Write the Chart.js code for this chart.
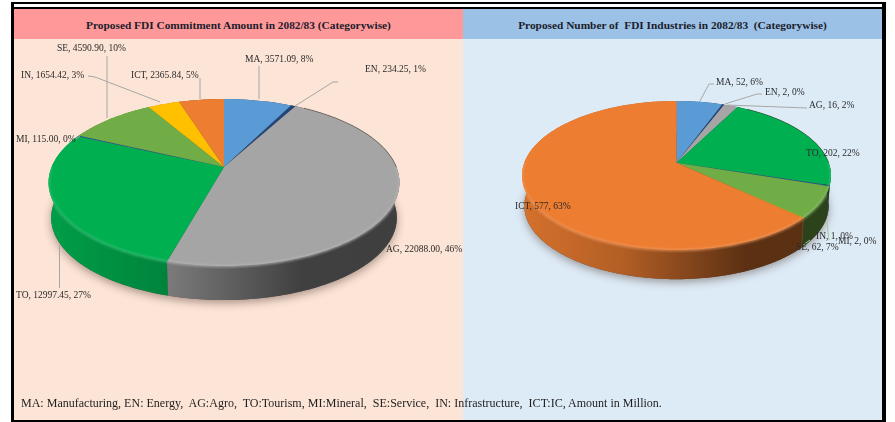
<!DOCTYPE html>
<html>
<head>
<meta charset="utf-8">
<title>Proposed FDI 2082/83</title>
<script src="https://cdn.jsdelivr.net/npm/chart.js@4/dist/chart.umd.js"></script>
<style>
  html, body { margin: 0; padding: 0; background: #fff; overflow: hidden; }
  #page { position: relative; width: 895px; height: 422px; font-family: "Liberation Serif", serif; color: #1f1f1f; }
  #page div, #page canvas { position: absolute; }
  .rule { background: #000; }
  .band { top: 9px; height: 30px; line-height: 33px; text-align: center; font-weight: bold; font-size: 11.35px; color: #1c1c2c; white-space: pre; }
  #footnote { left: 21px; top: 395px; font-size: 12.03px; white-space: pre; line-height: 16px; }
</style>
</head>
<body>
<div id="page">
  <div style="left:14px;top:39px;width:449px;height:381px;background:#FCE4D6"></div>
  <div style="left:463px;top:39px;width:419px;height:381px;background:#DDEBF7"></div>
  <div class="band" style="left:14px;width:449px;background:#FF9999">Proposed FDI Commitment Amount in 2082/83 (Categorywise)</div>
  <div class="band" style="left:463px;width:419px;background:#9BC2E6">Proposed Number of  FDI Industries in 2082/83  (Categorywise)</div>
  <div class="rule" style="left:11px;top:2px;width:875px;height:2px"></div>
  <div class="rule" style="left:11px;top:7px;width:875px;height:2px"></div>
  <div class="rule" style="left:11px;top:2px;width:3px;height:420px"></div>
  <div class="rule" style="left:882px;top:2px;width:4px;height:420px"></div>
  <div class="rule" style="left:11px;top:420px;width:875px;height:2px"></div>
  <canvas id="amountPie" width="895" height="422"></canvas>
  <canvas id="industryPie" width="895" height="422"></canvas>
  <div id="footnote">MA: Manufacturing, EN: Energy,  AG:Agro,  TO:Tourism, MI:Mineral,  SE:Service,  IN: Infrastructure,  ICT:IC, Amount in Million.</div>
</div>
<script>
// Sector codes and slice colours shared by both pies
const categories = ['MA', 'EN', 'AG', 'TO', 'MI', 'SE', 'IN', 'ICT'];
const sliceColors = ['#5B9BD5', '#264478', '#A5A5A5', '#00B050', '#255E91', '#70AD47', '#FFC000', '#ED7D31'];

// Commitment amount in million, with the printed share of each sector
const amountValues = [3571.09, 234.25, 22088.00, 12997.45, 115.00, 4590.90, 1654.42, 2365.84];
const amountPercents = [8, 1, 46, 27, 0, 10, 3, 5];

// Number of industries, with the printed share of each sector
const industryValues = [52, 2, 16, 202, 2, 62, 1, 577];
const industryPercents = [6, 0, 2, 22, 0, 7, 0, 63];

// Label placement per sector: text left edge, text middle, then leader polyline
const amountLabelLayout = [
  { x: 245, y: 59, leader: [[259, 66], [259, 99]] },
  { x: 365, y: 69, leader: [[338, 82], [333, 82], [295, 106]] },
  { x: 386, y: 249 },
  { x: 16, y: 295, leader: [[59.5, 288], [59.5, 245]] },
  { x: 16, y: 139, leader: [[76, 139], [80, 136]] },
  { x: 57, y: 48, leader: [[107, 56], [107, 118]] },
  { x: 21, y: 75, leader: [[88, 76], [95, 77], [160, 102]] },
  { x: 131, y: 75, leader: [[200, 78], [200, 99]] }
];
const industryLabelLayout = [
  { x: 716, y: 82, leader: [[714, 84], [709, 84], [700, 101]] },
  { x: 765, y: 92, leader: [[762, 94], [757, 94], [725, 104]] },
  { x: 809, y: 105, leader: [[807, 108], [727, 105]] },
  { x: 806, y: 153 },
  { x: 838, y: 241 },
  { x: 796, y: 247, leader: [[810, 240], [803, 245]], tint: '#A9C79A' },
  { x: 816, y: 236, leader: [[826.7, 220], [829, 240]], tint: '#A9C79A' },
  { x: 515, y: 206 }
];

// Brightness of the side wall from the left to the right of the pie
const wallShade = [[0, 0.9], [0.33, 0.75], [0.72, 0.39], [1, 0.38]];

function shaded(hex, factor) {
  const n = parseInt(hex.slice(1), 16);
  const c = [n >> 16, (n >> 8) & 255, n & 255].map(v => Math.round(v * factor));
  return `rgb(${c[0]},${c[1]},${c[2]})`;
}
function lifted(hex, amount) {
  const n = parseInt(hex.slice(1), 16);
  const c = [n >> 16, (n >> 8) & 255, n & 255].map(v => Math.round(v + (255 - v) * amount));
  return `rgb(${c[0]},${c[1]},${c[2]})`;
}

// Draws the library's arc elements as a tilted disc seen in perspective
function tiltedPie(view, layout, labelOf) {
  const { cx, apexY, a, b, k, depth, shrink } = view;
  const rim = (phi, lower) => {
    const x = Math.sin(phi), y = Math.cos(phi), w = 1 + k * y;
    const px = a * x / w, py = -b * y / w;
    const s = lower ? shrink : 1;
    return [cx + s * px, apexY + s * py + (lower ? depth : 0)];
  };
  const ringPath = (ctx, from, to, lower, moveFirst) => {
    const steps = Math.max(2, Math.ceil(Math.abs(to - from) / 0.02));
    for (let i = 0; i <= steps; i++) {
      const p = rim(from + (to - from) * i / steps, lower);
      if (i === 0 && moveFirst) ctx.moveTo(p[0], p[1]); else ctx.lineTo(p[0], p[1]);
    }
  };
  return {
    id: 'tiltedPie',
    beforeDatasetDraw(chart) {
      const ctx = chart.ctx;
      const arcs = chart.getDatasetMeta(0).data;
      const colors = chart.data.datasets[0].backgroundColor;
      const spans = arcs.map(arc => [arc.startAngle + Math.PI / 2, arc.endAngle + Math.PI / 2]);
      const left = cx - a * 1.02, right = cx + a * 1.02;

      // soft cast shadow under the disc
      ctx.save();
      ctx.shadowColor = 'rgba(70,50,40,0.45)';
      ctx.shadowBlur = 9;
      ctx.shadowOffsetY = 3;
      ctx.fillStyle = '#555';
      ctx.beginPath();
      ringPath(ctx, 0, Math.PI * 2, true, true);
      ctx.closePath();
      ctx.fill();
      ctx.restore();

      // side walls
      spans.forEach((span, i) => {
        const grad = ctx.createLinearGradient(left, 0, right, 0);
        wallShade.forEach(([t, f]) => grad.addColorStop(t, shaded(colors[i], f)));
        ctx.fillStyle = grad;
        ctx.beginPath();
        ringPath(ctx, span[0], span[1], false, true);
        ringPath(ctx, span[1], span[0], true, false);
        ctx.closePath();
        ctx.fill();
      });

      // top faces
      spans.forEach((span, i) => {
        ctx.fillStyle = colors[i];
        ctx.beginPath();
        ctx.moveTo(cx, apexY);
        ringPath(ctx, span[0], span[1], false, false);
        ctx.closePath();
        ctx.fill();
      });

      // bevel along the front rim, kept inside the disc outline
      ctx.save();
      ctx.beginPath();
      ringPath(ctx, 0, Math.PI * 2, false, true);
      ctx.closePath();
      ringPath(ctx, 0, Math.PI * 2, true, true);
      ctx.closePath();
      ctx.clip();
      spans.forEach((span, i) => {
        const from = Math.max(span[0], Math.PI * 0.5);
        const to = Math.min(span[1], Math.PI * 1.5);
        if (to <= from) return;
        ctx.save();
        ctx.filter = 'blur(1px)';
        ctx.strokeStyle = lifted(colors[i], 0.22);
        ctx.globalAlpha = 0.7;
        ctx.lineWidth = 2.5;
        ctx.beginPath();
        ringPath(ctx, from, to, false, true);
        ctx.stroke();
        ctx.restore();
      });
      ctx.restore();

      // dark edge on the far right of the top face
      ctx.save();
      ctx.strokeStyle = 'rgba(50,40,30,0.45)';
      ctx.lineWidth = 1;
      ctx.beginPath();
      ringPath(ctx, Math.PI * 0.18, Math.PI * 0.5, false, true);
      ctx.stroke();
      ctx.restore();
      return false;
    },
    afterDatasetsDraw(chart) {
      const ctx = chart.ctx;
      ctx.save();
      ctx.font = '9.5px "Liberation Serif", serif';
      ctx.textBaseline = 'middle';
      ctx.textAlign = 'left';
      layout.forEach((item) => {
        if (item.leader) {
          ctx.strokeStyle = item.tint || '#A6A6A6';
          ctx.lineWidth = 1;
          ctx.beginPath();
          item.leader.forEach((p, j) => j ? ctx.lineTo(p[0], p[1]) : ctx.moveTo(p[0], p[1]));
          ctx.stroke();
        }
      });
      ctx.fillStyle = '#2a2a2a';
      layout.forEach((item, i) => ctx.fillText(labelOf(i), item.x, item.y));
      ctx.restore();
    }
  };
}

function buildPie(canvasId, values, view, layout, labelOf) {
  return new Chart(document.getElementById(canvasId), {
    type: 'pie',
    data: { labels: categories, datasets: [{ data: values, backgroundColor: sliceColors, borderWidth: 0 }] },
    options: {
      responsive: false,
      animation: false,
      events: [],
      plugins: { legend: { display: false }, tooltip: { enabled: false } }
    },
    plugins: [tiltedPie(view, layout, labelOf)]
  });
}

buildPie('amountPie', amountValues,
  { cx: 224, apexY: 167, a: 172.4, b: 80.6, k: 0.186, depth: 35.5, shrink: 0.985 },
  amountLabelLayout,
  i => `${categories[i]}, ${amountValues[i].toFixed(2)}, ${amountPercents[i]}%`);

buildPie('industryPie', industryValues,
  { cx: 676.5, apexY: 162.7, a: 152.2, b: 72.3, k: 0.172, depth: 30.5, shrink: 0.985 },
  industryLabelLayout,
  i => `${categories[i]}, ${industryValues[i]}, ${industryPercents[i]}%`);
</script>
</body>
</html>
